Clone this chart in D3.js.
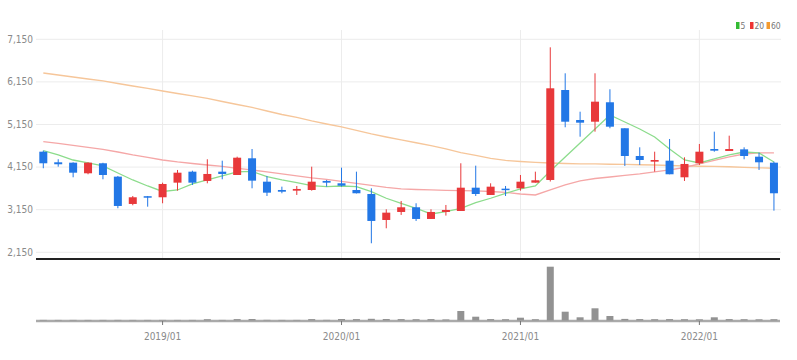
<!DOCTYPE html>
<html>
<head>
<meta charset="utf-8">
<script src="https://cdn.jsdelivr.net/npm/d3@7"></script>
<style>
  html, body { margin: 0; padding: 0; background: #fff; }
  svg { display: block; }
  text { font-family: "Liberation Sans Narrow", "DejaVu Sans Condensed", "Liberation Sans", sans-serif; }
</style>
</head>
<body>
<svg id="chart" width="797" height="360"></svg>
<script>
const months = ["2018/05","2018/06","2018/07","2018/08","2018/09","2018/10","2018/11","2018/12",
  "2019/01","2019/02","2019/03","2019/04","2019/05","2019/06","2019/07","2019/08","2019/09","2019/10","2019/11","2019/12",
  "2020/01","2020/02","2020/03","2020/04","2020/05","2020/06","2020/07","2020/08","2020/09","2020/10","2020/11","2020/12",
  "2021/01","2021/02","2021/03","2021/04","2021/05","2021/06","2021/07","2021/08","2021/09","2021/10","2021/11","2021/12",
  "2022/01","2022/02","2022/03","2022/04","2022/05","2022/06"];
const openP  = [4500,4251,4242,3993,4228,3914,3273,3455,3430,3773,4031,3813,4031,3953,4345,3796,3601,3585,3601,3813,
  3758,3601,3507,2897,3085,3195,2921,3085,3108,3655,3484,3632,3641,3773,3836,5948,5244,5204,5660,5050,
  4399,4266,4289,3899,4228,4563,4516,4555,4383,4242];
const highP  = [4524,4322,4250,4250,4240,3930,3460,3460,3773,4071,4054,4322,4289,4383,4563,3930,3679,3695,4148,3836,
  4125,4031,3641,3148,3343,3289,3148,3249,4228,4172,3758,3695,3953,4031,6950,6340,5439,6340,5965,5050,
  4603,4500,4798,4368,4681,4970,4876,4603,4477,4266];
const lowP   = [4111,4148,3899,3970,3852,3172,3242,3209,3289,3585,3719,3758,3852,3953,3641,3460,3524,3484,3585,3679,
  3679,3520,2350,2702,3015,2874,2921,3000,3108,3460,3484,3460,3585,3773,3800,5073,4852,4970,5050,4165,
  4188,4031,3970,3813,4188,4500,4516,4322,4071,3116];
const closeP = [4228,4205,4007,4242,3953,3226,3430,3430,3742,4007,3773,3977,3977,4359,3820,3538,3561,3625,3796,3773,
  3702,3524,2874,3069,3195,2921,3085,3132,3655,3507,3679,3601,3796,3829,5988,5204,5181,5674,5087,4399,
  4305,4305,3970,4212,4500,4524,4563,4399,4251,3524];
const ma5  = [4524,4423,4305,4235,4165,4000,3836,3695,3566,3601,3742,3836,3930,4024,4036,3913,3836,3773,3702,3679,
  3695,3679,3561,3407,3289,3172,3038,3092,3172,3303,3407,3524,3625,3695,4047,4376,4704,5033,5362,5197,
  5033,4845,4564,4305,4235,4329,4423,4493,4470,4259];
const ma20 = [4735,4693,4646,4599,4552,4493,4423,4364,4305,4259,4223,4188,4153,4106,4071,4024,3977,3930,3883,3848,
  3801,3754,3707,3660,3625,3613,3602,3594,3585,3578,3566,3543,3507,3484,3601,3719,3813,3871,3906,3942,
  3977,4024,4071,4129,4212,4294,4376,4446,4470,4470];
const ma60 = [6347,6300,6253,6206,6160,6101,6042,5984,5925,5866,5808,5749,5678,5608,5538,5455,5373,5303,5221,5150,
  5080,4998,4916,4845,4775,4710,4640,4565,4480,4411,4345,4295,4270,4250,4235,4223,4216,4212,4205,4200,
  4193,4188,4176,4165,4158,4153,4146,4134,4122,4111];
const volume = [5000,4000,5000,4000,5000,6000,4000,5000,5000,4000,5000,40000,5000,45000,50000,8000,5000,5000,45000,8000,
  50000,45000,60000,50000,45000,40000,45000,30000,450000,165000,45000,40000,115000,40000,2665000,415000,135000,585000,200000,55000,
  45000,40000,45000,40000,35000,135000,45000,40000,35000,40000];
const yTicks = [2150,3150,4150,5150,6150,7150];
const xTicks = ["2019/01","2020/01","2021/01","2022/01"];
const legendItems = ["5","20","60"];
const legendColors = ["#33bb33","#ee3333","#f39a2e"];
const maColors = ["#8cdc8c","#f5a7a7","#f6c69a"];

const svg = d3.select("#chart");
const L = 36, R = 781;
const x = d3.scaleBand().domain(months).range([35.85, 781.4]).paddingInner(0).paddingOuter(0);
const cx = m => x(m) + x.bandwidth() / 2;
const y = d3.scaleLinear().domain([2150, 7150]).range([251.8, 38.8]);
const vy = d3.scaleLinear().domain([0, 2700000]).range([320, 266]);

// horizontal grid + y labels
const yAxis = d3.axisLeft(y).tickValues(yTicks).tickFormat(d3.format(",")).tickSize(-(R - L)).tickPadding(3);
const gy = svg.append("g").attr("transform", `translate(${L},0)`).call(yAxis);
gy.select(".domain").remove();
gy.selectAll(".tick line").attr("stroke", "#ececec");
gy.selectAll(".tick text").attr("fill", "#8a8a8a").attr("font-size", 10);

// vertical grid at year ticks
svg.append("g").selectAll("line").data(xTicks).join("line")
  .attr("x1", d => cx(d)).attr("x2", d => cx(d))
  .attr("y1", 30).attr("y2", 258)
  .attr("stroke", "#ececec");

// moving averages
const mas = [ma60, ma20, ma5];
const masCol = [maColors[2], maColors[1], maColors[0]];
mas.forEach((arr, k) => {
  const line = d3.line().x((d, i) => cx(months[i])).y(d => y(d));
  svg.append("path").datum(arr).attr("d", line)
    .attr("fill", "none").attr("stroke", masCol[k]).attr("stroke-width", 1.3);
});

// candles
const up = "#e8383a", down = "#2277e6";
const cg = svg.append("g");
months.forEach((m, i) => {
  const o = openP[i], c = closeP[i], h = highP[i], l = lowP[i];
  const col = c > o ? up : down;
  cg.append("line").attr("x1", cx(m)).attr("x2", cx(m))
    .attr("y1", y(h)).attr("y2", y(l)).attr("stroke", col).attr("stroke-width", 1);
  const top = y(Math.max(o, c)), bot = y(Math.min(o, c));
  cg.append("rect").attr("x", cx(m) - 4).attr("width", 8)
    .attr("y", top).attr("height", Math.max(1.5, bot - top)).attr("fill", col);
});

// separator line
svg.append("line").attr("x1", L).attr("x2", 780).attr("y1", 259).attr("y2", 259)
  .attr("stroke", "#222").attr("stroke-width", 2);

// x axis (baseline drawn first)
const xAxis = d3.axisBottom(x).tickValues(xTicks).tickSize(4).tickSizeOuter(0).tickPadding(8);
const gx = svg.append("g").attr("transform", "translate(0,321)").call(xAxis);
gx.select(".domain").attr("stroke", "#aaaaaa").attr("stroke-width", 2.5)
  .attr("d", `M${L},0H780`);
gx.selectAll(".tick line").attr("stroke", "#777");
gx.selectAll(".tick text").attr("fill", "#8a8a8a").attr("font-size", 10);

// volume bars
svg.append("g").selectAll("rect").data(volume).join("rect")
  .attr("x", (d, i) => cx(months[i]) - 3.5).attr("width", 7)
  .attr("y", d => vy(d)).attr("height", d => 320 - vy(d) + 0.5)
  .attr("fill", "#929292");

// legend
const lg = svg.append("g");
const lx = [736, 750, 766.5];
legendItems.forEach((t, i) => {
  lg.append("rect").attr("x", lx[i]).attr("y", 22).attr("width", 3.5).attr("height", 7).attr("fill", legendColors[i]);
  lg.append("text").attr("x", lx[i] + 4.5).attr("y", 28.5).attr("font-size", 8.5).attr("fill", "#777").text(t);
});
</script>
</body>
</html>
